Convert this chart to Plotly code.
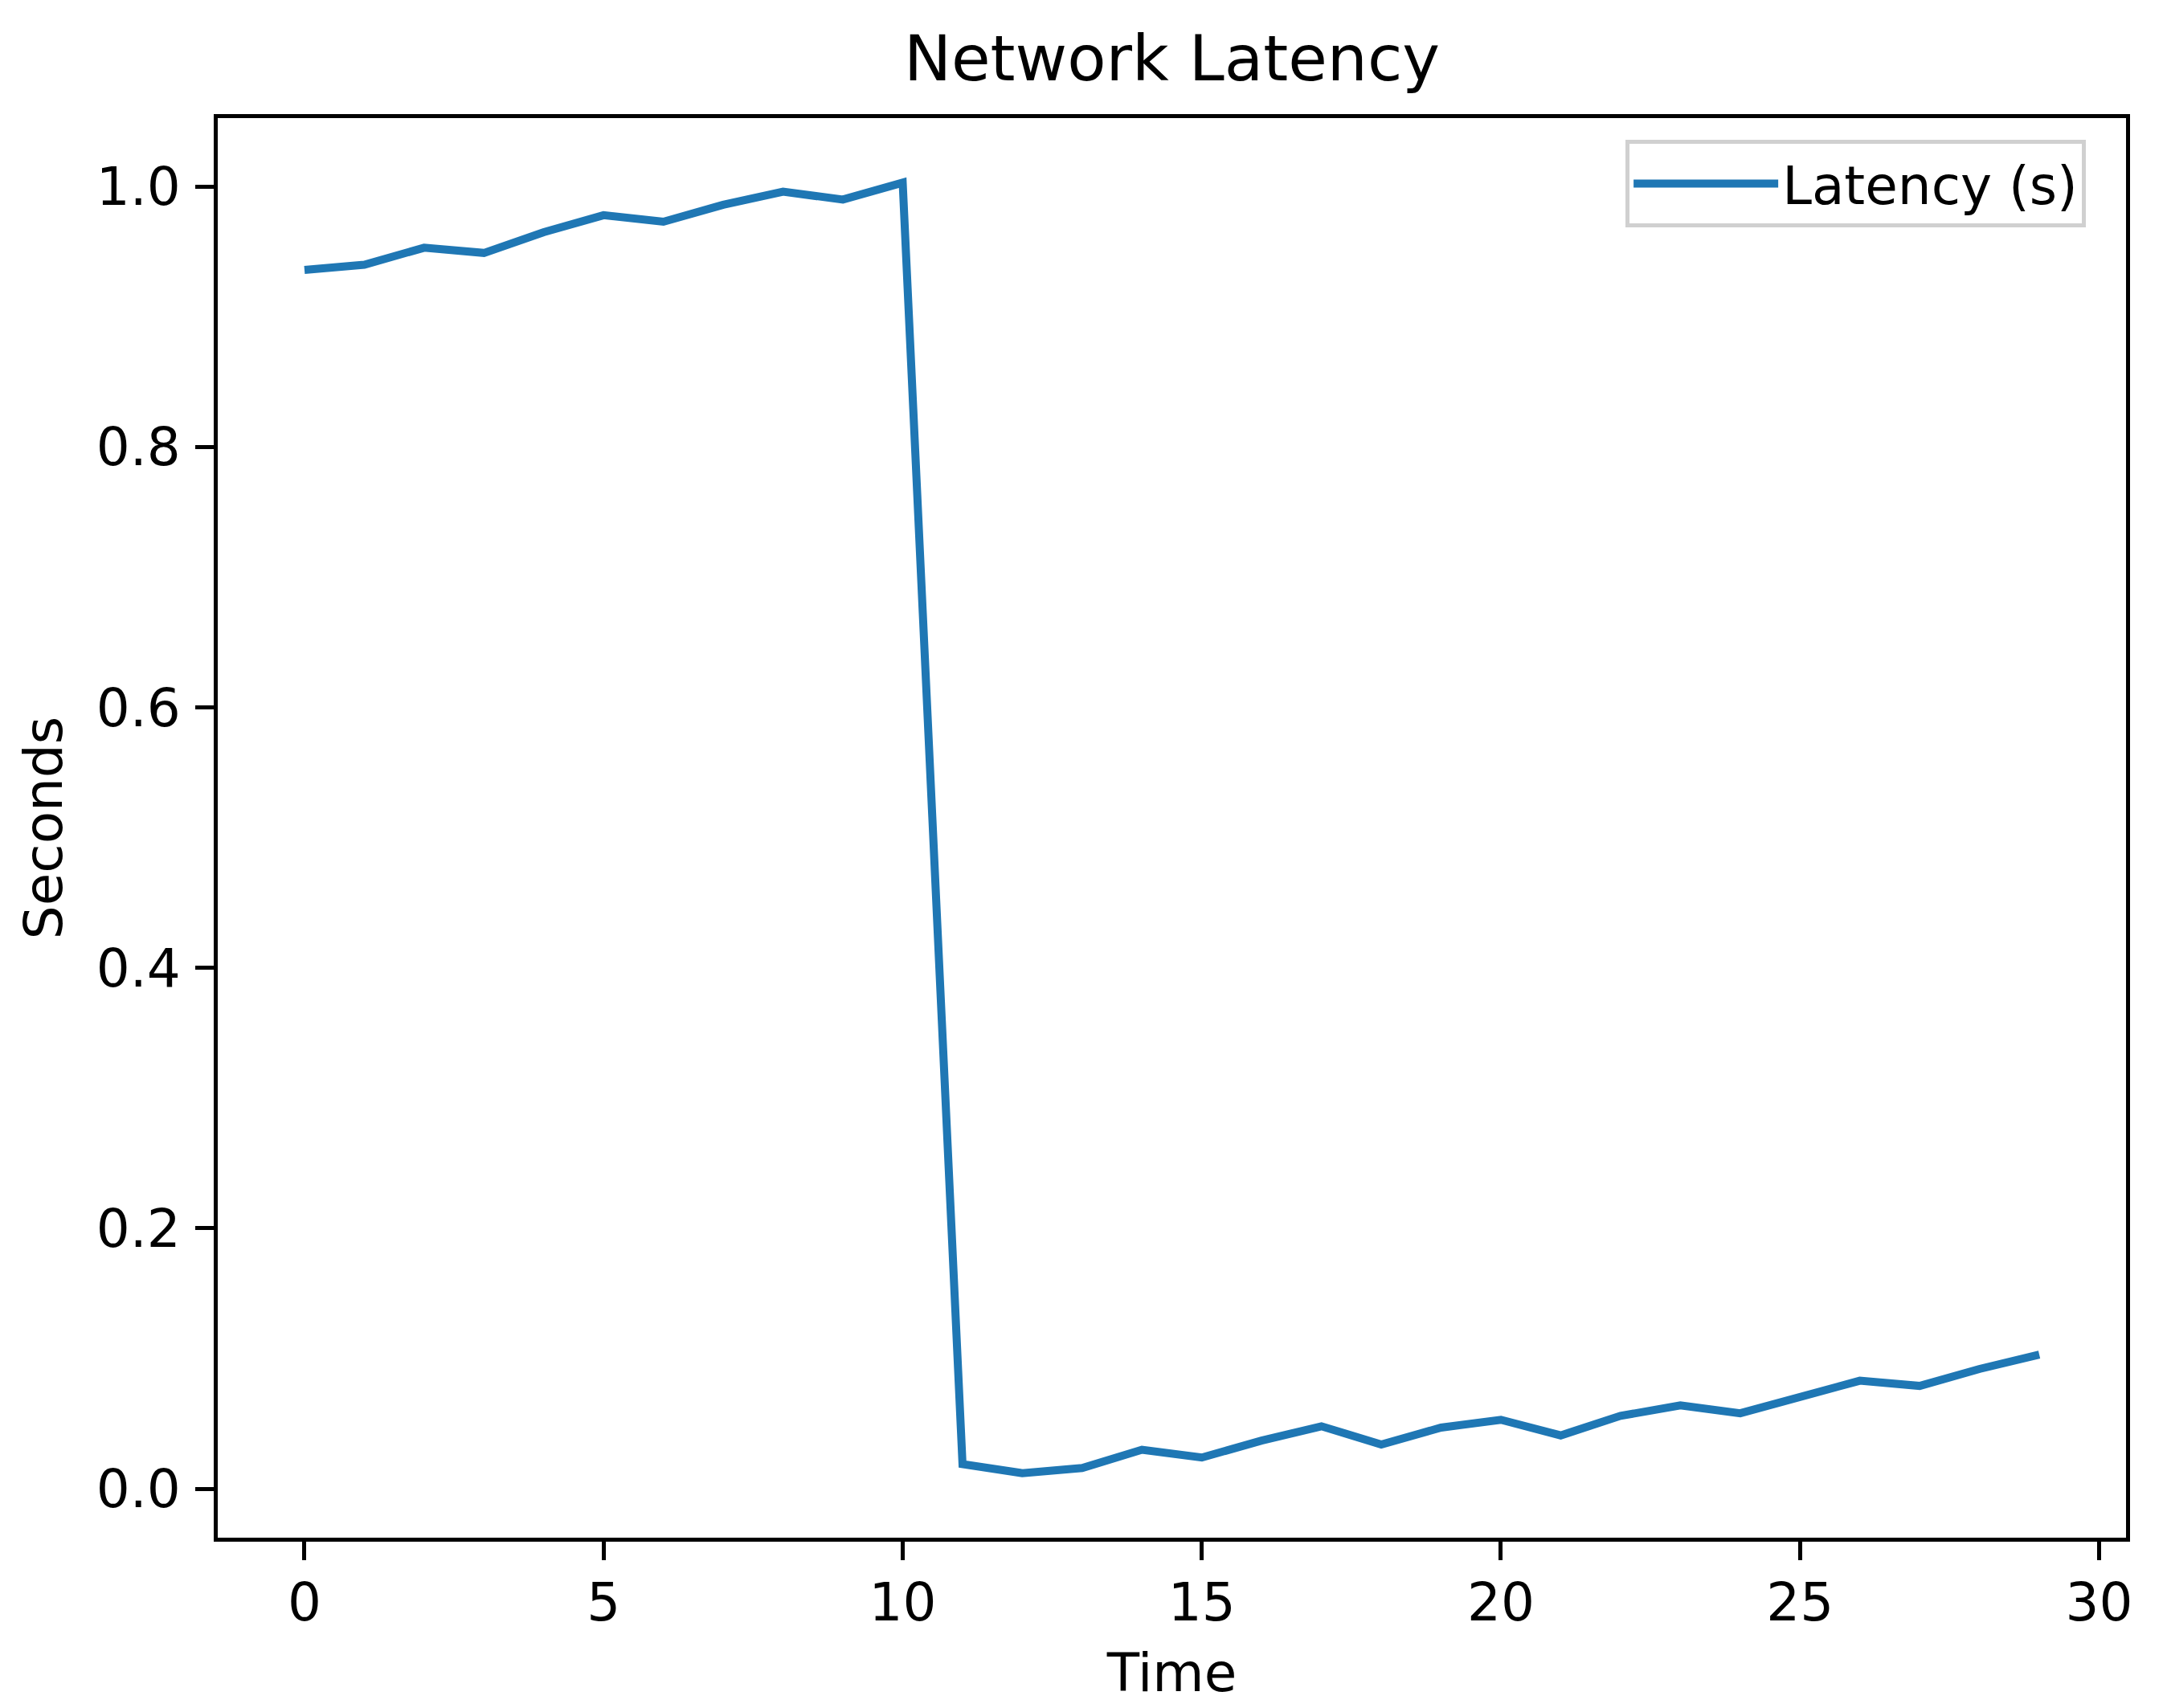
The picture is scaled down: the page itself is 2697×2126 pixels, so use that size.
import plotly.graph_objects as go

time = list(range(30))
latency = [0.936, 0.940, 0.953, 0.949, 0.965, 0.978, 0.973, 0.986, 0.996, 0.990,
           1.003, 0.019, 0.012, 0.016, 0.030, 0.024, 0.037, 0.048, 0.034, 0.047,
           0.053, 0.041, 0.056, 0.064, 0.058, 0.071, 0.083, 0.079, 0.092, 0.103]
x_ticks = [0, 5, 10, 15, 20, 25, 30]
y_ticks = [0.0, 0.2, 0.4, 0.6, 0.8, 1.0]

FONT = "DejaVu Sans"
W, H = 2697, 2126
L, R, T, B = 271, 51, 147, 212

fig = go.Figure()
fig.add_trace(go.Scatter(x=time, y=latency, mode="lines", name="Latency (s)",
                         line=dict(color="#1f77b4", width=10)))

axis_common = dict(showgrid=False, zeroline=False, showline=True, mirror=True,
                   linecolor="black", linewidth=5, ticks="outside", ticklen=23,
                   tickwidth=5, tickcolor="black",
                   tickfont=dict(family=FONT, size=66, color="black"))

xmin, xmax = min(time), max(time)
ymin, ymax = min(latency), max(latency)
xpad = (xmax - xmin) * 0.05
ypad = (ymax - ymin) * 0.05

fig.update_xaxes(range=[xmin - xpad, xmax + xpad], tickvals=x_ticks,
                 ticktext=[str(v) for v in x_ticks], ticklabelstandoff=-4,
                 title=dict(text="Time", font=dict(family=FONT, size=66, color="black"),
                            standoff=28),
                 **axis_common)
fig.update_yaxes(range=[ymin - ypad, ymax + ypad], tickvals=y_ticks,
                 ticktext=[f"{v:.1f}" for v in y_ticks], ticklabelstandoff=5,
                 title=dict(text="Seconds", font=dict(family=FONT, size=66, color="black"),
                            standoff=22),
                 **axis_common)

fig.update_layout(
    width=W, height=H, autosize=False,
    margin=dict(l=L, r=R, t=T, b=B, pad=0),
    paper_bgcolor="white", plot_bgcolor="white",
    font=dict(family=FONT, size=66, color="black"),
    title=dict(text="Network Latency", x=0.5, xref="paper", xanchor="center",
               y=1 - 72 / H, yref="container", yanchor="middle",
               font=dict(family=FONT, size=79, color="black")),
    showlegend=True,
    legend=dict(x=0.979, y=0.9847, xanchor="right", yanchor="top",
                bgcolor="white", bordercolor="#d0d0d0", borderwidth=5,
                font=dict(family=FONT, size=66, color="black"),
                itemwidth=180),
)

fig.write_html("out.html", config={"displayModeBar": False},
               post_script="document.body.style.margin='0px';")
